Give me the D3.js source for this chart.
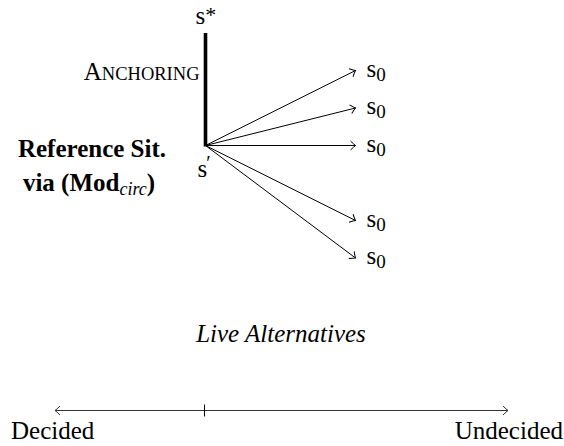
<!DOCTYPE html>
<html>
<head>
<script src="https://d3js.org/d3.v7.min.js"></script>
<style>
  svg text, svg tspan { font-family: "Times New Roman", "Liberation Serif", Tinos, serif !important; }
</style>
</head>
<body style="margin:0">
<script>
// alternatives reachable from the reference situation s' (vertical offsets, in units)
var alternatives = [2, 1, 0, -2, -3];
var anchorTop = 3;            // s* sits 3 units above s'
var altLabel = "s", altSub = "0";
var spectrum = ["Decided", "Undecided"];
var spectrumTick = 0.33;      // where the reference situation sits on the scale

var width = 564, height = 446;
var font = "Times New Roman";
var headPath = "M-5,-4.5 Q-1.5,-1 0,0 Q-1.5,1 -5,4.5";

var svg = d3.select("body").append("svg")
    .attr("width", width)
    .attr("height", height);

function label(x0, y0, size) {
  return svg.append("text")
      .attr("x", x0).attr("y", y0)
      .attr("font-size", size)
      .style("font-family", font);
}

// open arrow head at (x1,y1) pointing away from (x0,y0)
function head(x0, y0, x1, y1, color) {
  var a = Math.atan2(y1 - y0, x1 - x0) * 180 / Math.PI;
  svg.append("path")
      .attr("d", headPath)
      .attr("transform", "translate(" + x1 + "," + y1 + ") rotate(" + a + ")")
      .attr("fill", "none")
      .attr("stroke", color)
      .attr("stroke-width", 1);
}

// scales for the diagram: x = 0 at s', 1 at the alternatives
var x = d3.scaleLinear().domain([0, 1]).range([205.5, 355.5]);
var y = d3.scaleLinear().domain([-3, 3]).range([258, 33]);

// anchoring line
svg.append("line")
    .attr("x1", x(0)).attr("x2", x(0))
    .attr("y1", y(0) + 1).attr("y2", y(anchorTop))
    .attr("stroke", "#000")
    .attr("stroke-width", 3.6);

// arrows to alternatives
alternatives.forEach(function(d) {
  svg.append("line")
      .attr("x1", x(0)).attr("y1", y(0))
      .attr("x2", x(1)).attr("y2", y(d))
      .attr("stroke", "#000")
      .attr("stroke-width", 1);
  head(x(0), y(0), x(1), y(d), "#000");
});

alternatives.forEach(function(d) {
  var t = label(x(1) + 11, y(d) + 6, 25);
  t.append("tspan").text(altLabel);
  t.append("tspan").attr("font-size", 19).attr("dy", 4).text(altSub);
});

// s* and s'
var star = label(x(0) - 10, y(anchorTop) - 9, 25);
star.append("tspan").text("s");
star.append("tspan").attr("font-size", 22).attr("dy", -2).text("*");

var prime = label(x(0) - 8, y(0) + 31, 25);
prime.append("tspan").text("s");
prime.append("tspan").attr("font-size", 20).attr("dx", -1).attr("dy", -7).text("\u2032");

// ANCHORING in small caps
var anch = label(x(0) - 6, 80, 25).attr("text-anchor", "end");
anch.append("tspan").text("A");
anch.append("tspan").attr("font-size", 18.5).text("NCHORING");

// reference situation label
label(92, 157, 25)
    .attr("text-anchor", "middle")
    .attr("font-weight", "bold")
    .text("Reference Sit.");
var via = label(89, 191, 25)
    .attr("text-anchor", "middle")
    .attr("font-weight", "bold");
via.append("tspan").text("via (Mod");
via.append("tspan").attr("font-size", 18).attr("font-weight", "normal")
    .attr("font-style", "italic").attr("dy", 4).text("circ");
via.append("tspan").attr("dy", -4).text(")");

// Live Alternatives
label(281, 342, 25)
    .attr("text-anchor", "middle")
    .attr("font-style", "italic")
    .text("Live Alternatives");

// decided / undecided scale
var sx = d3.scaleLinear().domain([0, 1]).range([55, 508]);
var axisY = 410.5;

svg.append("line")
    .attr("x1", sx(0)).attr("x2", sx(1))
    .attr("y1", axisY).attr("y2", axisY)
    .attr("stroke", "#333")
    .attr("stroke-width", 1.2);
head(sx(1), axisY, sx(0), axisY, "#333");
head(sx(0), axisY, sx(1), axisY, "#333");

svg.append("line")
    .attr("x1", sx(spectrumTick)).attr("x2", sx(spectrumTick))
    .attr("y1", axisY - 6).attr("y2", axisY + 6)
    .attr("stroke", "#000")
    .attr("stroke-width", 1);

label(11, 439, 25).text(spectrum[0]);
label(563, 439, 25).attr("text-anchor", "end").text(spectrum[1]);
</script>
</body>
</html>
